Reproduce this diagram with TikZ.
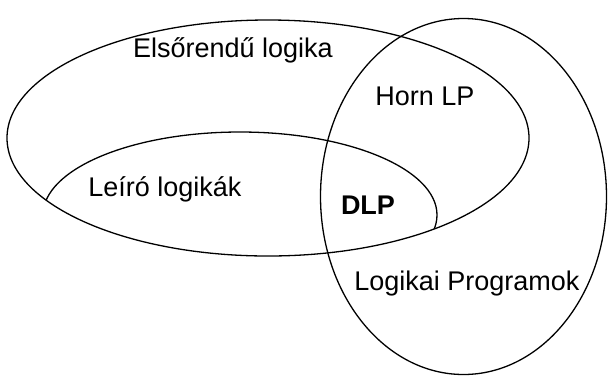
\documentclass[tikz,border=0pt]{standalone}
\usepackage{fontspec}
\setmainfont{Liberation Sans}
\begin{document}
\begin{tikzpicture}[x=1pt,y=-1pt]
    % Define colours
    \definecolor{lineColour}{HTML}{000000}

    % Define label font
    \def\labelFont{\fontsize{27}{32}\selectfont}

    \useasboundingbox (0,0) rectangle (608,376);

    % Define the centres of the sets
    \coordinate (F) at (268,138);
    \coordinate (P) at (463.5,196.5);
    \coordinate (D) at (240,215);

    % Draw the sets
    \draw[lineColour, line width=1.3pt] (F) ellipse [x radius=261, y radius=118];
    \draw[lineColour, line width=1.3pt] (P) ellipse [x radius=143, y radius=178];
    \begin{scope}
        \clip (F) ellipse [x radius=261, y radius=118];
        \draw[lineColour, line width=1.3pt] (D) ellipse [x radius=197, y radius=83];
    \end{scope}

    % Label the sets
    \node[font=\labelFont] (fol) at (233,50) {Elsőrendű logika};
    \node[font=\labelFont] (horn) at (425,96) {Horn LP};
    \node[font=\labelFont] (dl) at (165,189) {Leíró logikák};
    \node[font=\labelFont\bfseries] (dlp) at (368,205) {DLP};
    \node[font=\labelFont] (lp) at (467,284) {Logikai Programok};
\end{tikzpicture}
\end{document}
